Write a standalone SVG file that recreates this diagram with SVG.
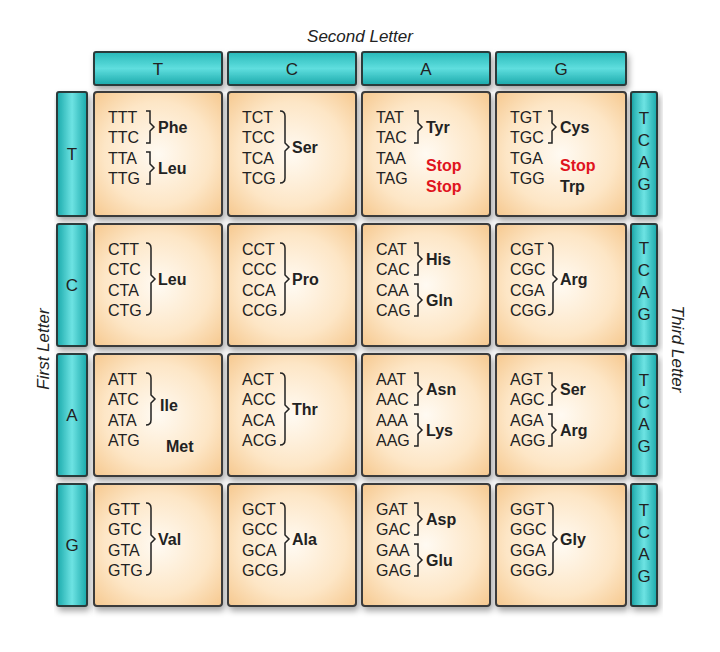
<svg xmlns="http://www.w3.org/2000/svg" width="720" height="652" viewBox="0 0 720 652">
<defs>
<radialGradient id="peach" cx="50%" cy="50%" r="70%"><stop offset="0" stop-color="#fffaf2"/><stop offset="0.6" stop-color="#fde6c6"/><stop offset="1" stop-color="#f6c990"/></radialGradient>
<linearGradient id="tealH" x1="0" y1="0" x2="0" y2="1"><stop offset="0" stop-color="#27b9b9"/><stop offset="0.5" stop-color="#5fdede"/><stop offset="1" stop-color="#1aa9ab"/></linearGradient>
<linearGradient id="tealV" x1="0" y1="0" x2="1" y2="0"><stop offset="0" stop-color="#1aa9ab"/><stop offset="0.5" stop-color="#6ee3e3"/><stop offset="1" stop-color="#1aa9ab"/></linearGradient>
<filter id="sh" x="-10%" y="-10%" width="130%" height="130%"><feDropShadow dx="2" dy="4" stdDeviation="3" flood-color="#000" flood-opacity="0.35"/></filter>
<path id="b2" fill="none" stroke="#222" stroke-width="1.5" d="M52,19 h4 v12 l4,4 l-4,4 v12 h-4"/>
<path id="b2b" fill="none" stroke="#222" stroke-width="1.5" d="M52,60 h4 v12 l4,4 l-4,4 v12 h-4"/>
<path id="b4" fill="none" stroke="#222" stroke-width="1.5" d="M52,19 q5,0 5,5 v27 l4,4 l-4,4 v27 q0,5 -5,5"/>
<path id="b3" fill="none" stroke="#222" stroke-width="1.5" d="M52,19 q5,0 5,5 v17 l4,4 l-4,4 v17 q0,5 -5,5"/>
</defs>
<style>
.cell{fill:url(#peach);stroke:#3a3a3a;stroke-width:2;filter:url(#sh)}
.hb{fill:url(#tealH);stroke:#2b3b3b;stroke-width:2;filter:url(#sh)}
.vb{fill:url(#tealV);stroke:#2b3b3b;stroke-width:2;filter:url(#sh)}
text{font-family:"Liberation Sans",Arial,sans-serif;fill:#222}
.cd{font-size:16px}
.aa{font-size:16px;font-weight:bold}
.st{font-size:16px;font-weight:bold;fill:#e0141e}
.hd{font-size:17px;text-anchor:middle}
.ax{font-size:17px;font-style:italic;text-anchor:middle}
</style>
<rect width="720" height="652" fill="#fff"/>
<text class="ax" x="360" y="42">Second Letter</text>
<text class="ax" transform="translate(49,349) rotate(-90)">First Letter</text>
<text class="ax" transform="translate(672,349) rotate(90)">Third Letter</text>
<g id="colheads">
<rect class="hb" x="94" y="52" width="128" height="33" rx="2"/><text class="hd" x="158" y="75">T</text>
<rect class="hb" x="228" y="52" width="128" height="33" rx="2"/><text class="hd" x="292" y="75">C</text>
<rect class="hb" x="362" y="52" width="128" height="33" rx="2"/><text class="hd" x="426" y="75">A</text>
<rect class="hb" x="496" y="52" width="130" height="33" rx="2"/><text class="hd" x="561" y="75">G</text>
</g>
<g id="rowheads">
<rect class="vb" x="57" y="92" width="30" height="124" rx="2"/><text class="hd" x="72" y="160">T</text>
<rect class="vb" x="57" y="224" width="30" height="122" rx="2"/><text class="hd" x="72" y="291">C</text>
<rect class="vb" x="57" y="354" width="30" height="122" rx="2"/><text class="hd" x="72" y="421">A</text>
<rect class="vb" x="57" y="484" width="30" height="122" rx="2"/><text class="hd" x="72" y="551">G</text>
</g>
<g id="thirdletters">
<rect class="vb" x="631" y="92" width="26" height="124" rx="2"/>
<rect class="vb" x="631" y="224" width="26" height="122" rx="2"/>
<rect class="vb" x="631" y="354" width="26" height="122" rx="2"/>
<rect class="vb" x="631" y="484" width="26" height="122" rx="2"/>
<text class="hd" x="644" y="124">T</text><text class="hd" x="644" y="146">C</text><text class="hd" x="644" y="168">A</text><text class="hd" x="644" y="190">G</text>
<text class="hd" x="644" y="254">T</text><text class="hd" x="644" y="276">C</text><text class="hd" x="644" y="298">A</text><text class="hd" x="644" y="320">G</text>
<text class="hd" x="644" y="386">T</text><text class="hd" x="644" y="408">C</text><text class="hd" x="644" y="430">A</text><text class="hd" x="644" y="452">G</text>
<text class="hd" x="644" y="516">T</text><text class="hd" x="644" y="538">C</text><text class="hd" x="644" y="560">A</text><text class="hd" x="644" y="582">G</text>
</g>
<!-- Row T -->
<g id="TT" transform="translate(94,92)"><rect class="cell" width="128" height="124" rx="3"/>
<text class="cd" x="14" y="31">TTT</text><text class="cd" x="14" y="51">TTC</text><text class="cd" x="14" y="72">TTA</text><text class="cd" x="14" y="92">TTG</text>
<use href="#b2"/><use href="#b2b"/><text class="aa" x="64" y="41">Phe</text><text class="aa" x="64" y="82">Leu</text></g>
<g id="TC" transform="translate(228,92)"><rect class="cell" width="128" height="124" rx="3"/>
<text class="cd" x="14" y="31">TCT</text><text class="cd" x="14" y="51">TCC</text><text class="cd" x="14" y="72">TCA</text><text class="cd" x="14" y="92">TCG</text>
<use href="#b4"/><text class="aa" x="64" y="61">Ser</text></g>
<g id="TA" transform="translate(362,92)"><rect class="cell" width="128" height="124" rx="3"/>
<text class="cd" x="14" y="31">TAT</text><text class="cd" x="14" y="51">TAC</text><text class="cd" x="14" y="72">TAA</text><text class="cd" x="14" y="92">TAG</text>
<use href="#b2"/><text class="aa" x="64" y="41">Tyr</text><text class="st" x="64" y="79">Stop</text><text class="st" x="64" y="100">Stop</text></g>
<g id="TG" transform="translate(496,92)"><rect class="cell" width="130" height="124" rx="3"/>
<text class="cd" x="14" y="31">TGT</text><text class="cd" x="14" y="51">TGC</text><text class="cd" x="14" y="72">TGA</text><text class="cd" x="14" y="92">TGG</text>
<use href="#b2"/><text class="aa" x="64" y="41">Cys</text><text class="st" x="64" y="79">Stop</text><text class="aa" x="64" y="100">Trp</text></g>
<!-- Row C -->
<g id="CT" transform="translate(94,224)"><rect class="cell" width="128" height="122" rx="3"/>
<text class="cd" x="14" y="31">CTT</text><text class="cd" x="14" y="51">CTC</text><text class="cd" x="14" y="72">CTA</text><text class="cd" x="14" y="92">CTG</text>
<use href="#b4"/><text class="aa" x="64" y="61">Leu</text></g>
<g id="CC" transform="translate(228,224)"><rect class="cell" width="128" height="122" rx="3"/>
<text class="cd" x="14" y="31">CCT</text><text class="cd" x="14" y="51">CCC</text><text class="cd" x="14" y="72">CCA</text><text class="cd" x="14" y="92">CCG</text>
<use href="#b4"/><text class="aa" x="64" y="61">Pro</text></g>
<g id="CA" transform="translate(362,224)"><rect class="cell" width="128" height="122" rx="3"/>
<text class="cd" x="14" y="31">CAT</text><text class="cd" x="14" y="51">CAC</text><text class="cd" x="14" y="72">CAA</text><text class="cd" x="14" y="92">CAG</text>
<use href="#b2"/><use href="#b2b"/><text class="aa" x="64" y="41">His</text><text class="aa" x="64" y="82">Gln</text></g>
<g id="CG" transform="translate(496,224)"><rect class="cell" width="130" height="122" rx="3"/>
<text class="cd" x="14" y="31">CGT</text><text class="cd" x="14" y="51">CGC</text><text class="cd" x="14" y="72">CGA</text><text class="cd" x="14" y="92">CGG</text>
<use href="#b4"/><text class="aa" x="64" y="61">Arg</text></g>
<!-- Row A -->
<g id="AT" transform="translate(94,354)"><rect class="cell" width="128" height="122" rx="3"/>
<text class="cd" x="14" y="31">ATT</text><text class="cd" x="14" y="51">ATC</text><text class="cd" x="14" y="72">ATA</text><text class="cd" x="14" y="92">ATG</text>
<use href="#b3"/><text class="aa" x="66" y="57">Ile</text><text class="aa" x="72" y="98">Met</text></g>
<g id="AC" transform="translate(228,354)"><rect class="cell" width="128" height="122" rx="3"/>
<text class="cd" x="14" y="31">ACT</text><text class="cd" x="14" y="51">ACC</text><text class="cd" x="14" y="72">ACA</text><text class="cd" x="14" y="92">ACG</text>
<use href="#b4"/><text class="aa" x="64" y="61">Thr</text></g>
<g id="AA" transform="translate(362,354)"><rect class="cell" width="128" height="122" rx="3"/>
<text class="cd" x="14" y="31">AAT</text><text class="cd" x="14" y="51">AAC</text><text class="cd" x="14" y="72">AAA</text><text class="cd" x="14" y="92">AAG</text>
<use href="#b2"/><use href="#b2b"/><text class="aa" x="64" y="41">Asn</text><text class="aa" x="64" y="82">Lys</text></g>
<g id="AG" transform="translate(496,354)"><rect class="cell" width="130" height="122" rx="3"/>
<text class="cd" x="14" y="31">AGT</text><text class="cd" x="14" y="51">AGC</text><text class="cd" x="14" y="72">AGA</text><text class="cd" x="14" y="92">AGG</text>
<use href="#b2"/><use href="#b2b"/><text class="aa" x="64" y="41">Ser</text><text class="aa" x="64" y="82">Arg</text></g>
<!-- Row G -->
<g id="GT" transform="translate(94,484)"><rect class="cell" width="128" height="122" rx="3"/>
<text class="cd" x="14" y="31">GTT</text><text class="cd" x="14" y="51">GTC</text><text class="cd" x="14" y="72">GTA</text><text class="cd" x="14" y="92">GTG</text>
<use href="#b4"/><text class="aa" x="64" y="61">Val</text></g>
<g id="GC" transform="translate(228,484)"><rect class="cell" width="128" height="122" rx="3"/>
<text class="cd" x="14" y="31">GCT</text><text class="cd" x="14" y="51">GCC</text><text class="cd" x="14" y="72">GCA</text><text class="cd" x="14" y="92">GCG</text>
<use href="#b4"/><text class="aa" x="64" y="61">Ala</text></g>
<g id="GA" transform="translate(362,484)"><rect class="cell" width="128" height="122" rx="3"/>
<text class="cd" x="14" y="31">GAT</text><text class="cd" x="14" y="51">GAC</text><text class="cd" x="14" y="72">GAA</text><text class="cd" x="14" y="92">GAG</text>
<use href="#b2"/><use href="#b2b"/><text class="aa" x="64" y="41">Asp</text><text class="aa" x="64" y="82">Glu</text></g>
<g id="GG" transform="translate(496,484)"><rect class="cell" width="130" height="122" rx="3"/>
<text class="cd" x="14" y="31">GGT</text><text class="cd" x="14" y="51">GGC</text><text class="cd" x="14" y="72">GGA</text><text class="cd" x="14" y="92">GGG</text>
<use href="#b4"/><text class="aa" x="64" y="61">Gly</text></g>
<g id="connectors"/>
</svg>
